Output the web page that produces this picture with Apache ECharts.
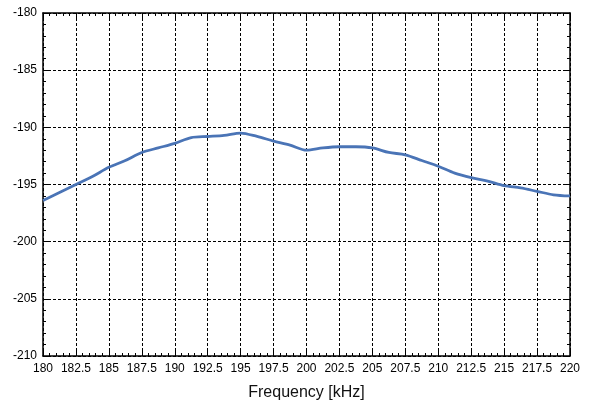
<!DOCTYPE html>
<html>
<head>
<meta charset="utf-8">
<script src="https://cdn.jsdelivr.net/npm/echarts@6/dist/echarts.min.js"></script>
<style>
  html, body { margin: 0; padding: 0; background: #fff; }
  #main { width: 589px; height: 406px; }
</style>
</head>
<body>
<div id="main"></div>
<script>
// frequency in kHz, level
const freqs = [180, 181.25, 182.5, 183.75, 185, 186.25, 187.5, 188.75, 190, 191.25,
  192.5, 193.75, 195, 196.25, 197.5, 198.75, 200, 201.25, 202.5, 203.75,
  205, 206.25, 207.5, 208.75, 210, 211.25, 212.5, 213.75, 215, 216.25,
  217.5, 218.75, 220];
const levels = [-196.4, -195.7, -195.0, -194.3, -193.5, -192.9, -192.2, -191.8, -191.4, -190.9,
  -190.8, -190.7, -190.5, -190.8, -191.2, -191.55, -192.0, -191.8, -191.7, -191.7,
  -191.8, -192.2, -192.4, -192.9, -193.4, -194.0, -194.4, -194.7, -195.1, -195.3,
  -195.6, -195.9, -196.0];
const xTitle = 'Frequency [kHz]';

const font = 'Liberation Sans, Arial, sans-serif';
let chartDom = document.getElementById('main');
let myChart = echarts.init(chartDom);

const gridDash = {color: '#000', width: 1, type: [3, 2]};
const tickCommon = {inside: true, length: 5, lineStyle: {color: '#000', width: 1}};
const minorCommon = {show: true, splitNumber: 5, length: 3, lineStyle: {color: '#000', width: 1}};

let option = {
  animation: false,
  grid: {left: 43, right: 19, top: 13, bottom: 45},
  xAxis: [
    {
      type: 'value', min: 180, max: 220, interval: 2.5,
      name: xTitle, nameLocation: 'middle', nameGap: 29,
      nameTextStyle: {fontFamily: font, fontSize: 16, color: '#111'},
      axisLine: {show: true, lineStyle: {color: '#000', width: 1.5}},
      axisTick: tickCommon,
      minorTick: minorCommon,
      axisLabel: {fontFamily: font, fontSize: 12, color: '#000', margin: 7},
      splitLine: {show: true, lineStyle: gridDash}
    },
    {
      type: 'value', min: 180, max: 220, interval: 2.5, position: 'top',
      axisLine: {show: true, lineStyle: {color: '#000', width: 1.5}},
      axisTick: tickCommon,
      minorTick: minorCommon,
      axisLabel: {show: false},
      splitLine: {show: false}
    }
  ],
  yAxis: [
    {
      type: 'value', min: -210, max: -180, interval: 5,
      axisLine: {show: true, lineStyle: {color: '#000', width: 1.5}},
      axisTick: tickCommon,
      minorTick: minorCommon,
      axisLabel: {fontFamily: font, fontSize: 12, color: '#000', margin: 6},
      splitLine: {show: true, lineStyle: gridDash}
    },
    {
      type: 'value', min: -210, max: -180, interval: 5, position: 'right',
      axisLine: {show: true, lineStyle: {color: '#000', width: 1.5}},
      axisTick: tickCommon,
      minorTick: minorCommon,
      axisLabel: {show: false},
      splitLine: {show: false}
    }
  ],
  series: [
    {
      type: 'line',
      data: freqs.map((f, i) => [f, levels[i]]),
      showSymbol: false,
      smooth: 0.3,
      lineStyle: {color: '#4a74b6', width: 2.8}
    }
  ]
};
option && myChart.setOption(option);
</script>
</body>
</html>
